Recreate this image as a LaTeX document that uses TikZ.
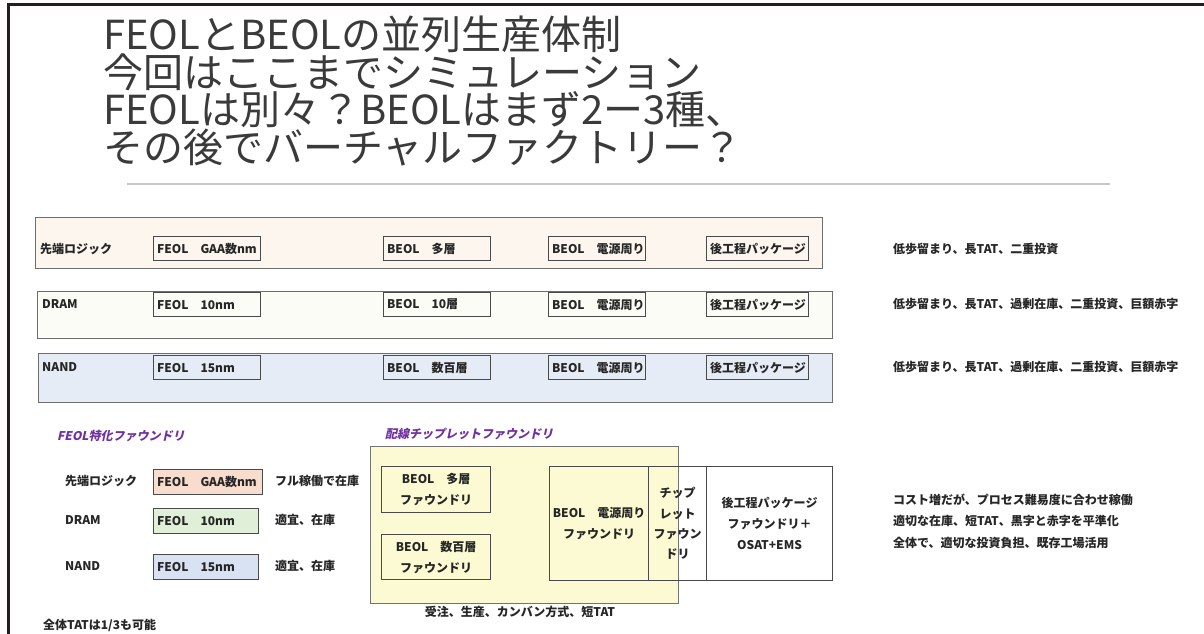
\documentclass[tikz,border=0pt]{standalone}
\usepackage{fontspec}
\setmainfont{Noto Sans CJK JP}
\newfontfamily\jpit[FakeSlant=0.22]{Noto Sans CJK JP}
\definecolor{framec}{HTML}{231F20}
\definecolor{titlec}{HTML}{3A3A3A}
\definecolor{row1}{HTML}{FDF6EE}
\definecolor{row2}{HTML}{FCFCF7}
\definecolor{row3}{HTML}{E6ECF6}
\definecolor{peach}{HTML}{F8DCCD}
\definecolor{mint}{HTML}{E0EFD8}
\definecolor{sky}{HTML}{D9E2F3}
\definecolor{yel}{HTML}{FCFAD2}
\definecolor{purp}{HTML}{7030A0}
\definecolor{linec}{HTML}{4A4A4A}
\tikzset{
  txt/.style={font=\fontsize{12}{14}\selectfont\bfseries, text=black!85, inner sep=0pt},
  ttl/.style={font=\fontsize{40}{40}\selectfont, text=titlec, inner sep=0pt, anchor=base west},
  rowbox/.style={draw=linec!80, line width=1.2pt, anchor=north west, inner sep=0pt},
  ibox/.style={draw=linec, line width=1.2pt, anchor=north west, inner xsep=3.5pt, inner ysep=0pt,
    text width=#1, align=left, minimum height=24pt, font=\fontsize{12}{14}\selectfont\bfseries, text=black!85},
  cbox/.style={draw=linec, line width=1.2pt, anchor=north west, inner sep=0pt, align=center,
    font=\fontsize{12}{21}\selectfont\bfseries, text=black!85},
  ptxt/.style={font=\jpit\fontsize{12}{14}\selectfont\bfseries, text=purp, inner sep=0pt, anchor=west},
}
\begin{document}
\begin{tikzpicture}[x=1pt,y=-1pt]
\useasboundingbox (0,0) rectangle (1204,633);
\fill[white] (0,0) rectangle (1204,633);
% frame
\draw[framec, line width=3pt] (8,640) -- (8,4) -- (1210,4);
% title
\node[ttl] (t1) at (103,49) {FEOLとBEOLの並列生産体制};
\node[ttl] (t2) at (103,87) {今回はここまでシミュレーション};
\node[ttl] (t3) at (103,124) {FEOLは別々？BEOLはまず2ー3種、};
\node[ttl] (t4) at (103,162) {その後でバーチャルファクトリー？};
\draw[black!22, line width=1.2pt] (127,184) -- (1110,184);

% row 1
\node[rowbox, fill=row1, minimum width=787pt, minimum height=51pt] (r1) at (35,217) {};
\node[txt, anchor=west] (r1l) at (40,249) {先端ロジック};
\node[ibox=100pt] (r1a) at (153,236) {FEOL　GAA数nm};
\node[ibox=100pt] (r1b) at (383,236) {BEOL　多層};
\node[ibox=90pt] (r1c) at (548,236) {BEOL　電源周り};
\node[ibox=95pt] (r1d) at (706,236) {後工程パッケージ};
\node[txt, anchor=west] (r1n) at (893,249) {低歩留まり、長TAT、二重投資};

% row 2
\node[rowbox, fill=row2, minimum width=795pt, minimum height=47pt] (r2) at (37,291) {};
\node[txt, anchor=west] (r2l) at (42,304) {DRAM};
\node[ibox=100pt] (r2a) at (153,292) {FEOL　10nm};
\node[ibox=100pt] (r2b) at (383,292) {BEOL　10層};
\node[ibox=90pt] (r2c) at (548,292) {BEOL　電源周り};
\node[ibox=95pt] (r2d) at (706,292) {後工程パッケージ};
\node[txt, anchor=west] (r2n) at (893,304) {低歩留まり、長TAT、過剰在庫、二重投資、巨額赤字};

% row 3
\node[rowbox, fill=row3, minimum width=794pt, minimum height=49pt] (r3) at (38,353) {};
\node[txt, anchor=west] (r3l) at (42,367) {NAND};
\node[ibox=100pt] (r3a) at (153,355) {FEOL　15nm};
\node[ibox=100pt] (r3b) at (383,355) {BEOL　数百層};
\node[ibox=90pt] (r3c) at (548,355) {BEOL　電源周り};
\node[ibox=95pt] (r3d) at (706,355) {後工程パッケージ};
\node[txt, anchor=west] (r3n) at (893,367) {低歩留まり、長TAT、過剰在庫、二重投資、巨額赤字};

% FEOL foundry
\node[ptxt] (fl) at (57,436) {FEOL特化ファウンドリ};
\node[txt, anchor=west] (f1l) at (65,481) {先端ロジック};
\node[ibox=102pt, fill=peach, minimum height=25pt] (f1) at (153,469) {FEOL　GAA数nm};
\node[txt, anchor=west] (f1n) at (275,481) {フル稼働で在庫};
\node[txt, anchor=west] (f2l) at (65,520) {DRAM};
\node[ibox=98pt, fill=mint, minimum height=25pt] (f2) at (153,508) {FEOL　10nm};
\node[txt, anchor=west] (f2n) at (275,520) {適宜、在庫};
\node[txt, anchor=west] (f3l) at (65,566) {NAND};
\node[ibox=98pt, fill=sky, minimum height=25pt] (f3) at (153,554) {FEOL　15nm};
\node[txt, anchor=west] (f3n) at (275,566) {適宜、在庫};

% BEOL chiplet foundry
\node[ptxt] (bl) at (385,434) {配線チップレットファウンドリ};
\node[rowbox, draw=black!55, fill=yel, minimum width=308pt, minimum height=157pt] (yb) at (370,446) {};
\node[cbox, minimum width=109pt, minimum height=46pt] (b1) at (381,466) {BEOL　多層\\ファウンドリ};
\node[cbox, minimum width=109pt, minimum height=45pt] (b2) at (381,534) {BEOL　数百層\\ファウンドリ};
\node[cbox, minimum width=99pt, minimum height=114pt] (pw) at (549,466) {BEOL　電源周り\\ファウンドリ};
\node[cbox, minimum width=58pt, minimum height=114pt, font=\fontsize{12}{20.3}\selectfont\bfseries] (ch) at (648,466) {チップ\\レット\\ファウン\\ドリ};
\node[cbox, minimum width=126pt, minimum height=114pt] (pk) at (706,466) {後工程パッケージ\\ファウンドリ＋\\OSAT+EMS};
\node[txt] (kb) at (520,612) {受注、生産、カンバン方式、短TAT};

% right notes
\node[txt, anchor=west] (n1) at (893,500) {コスト増だが、プロセス難易度に合わせ稼働};
\node[txt, anchor=west] (n2) at (893,521) {適切な在庫、短TAT、黒字と赤字を平準化};
\node[txt, anchor=west] (n3) at (893,543) {全体で、適切な投資負担、既存工場活用};

% bottom text
\node[txt, anchor=west] (tat) at (43,625) {全体TATは1/3も可能};
\end{tikzpicture}
\end{document}
